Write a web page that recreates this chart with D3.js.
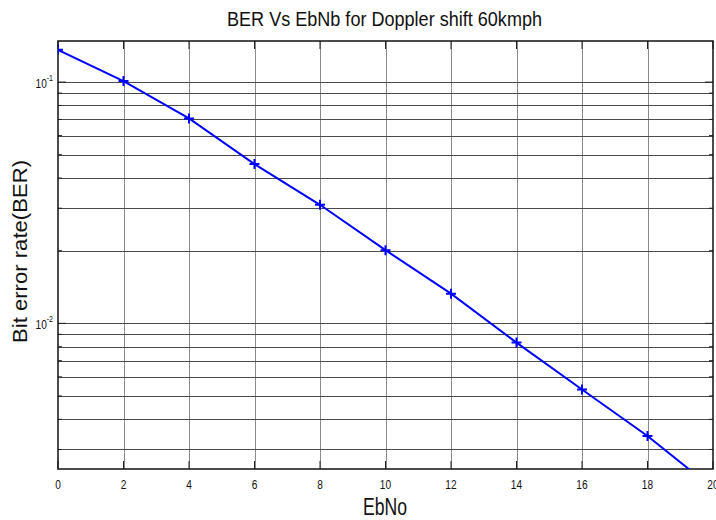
<!DOCTYPE html>
<html>
<head>
<meta charset="utf-8">
<script src="https://cdn.jsdelivr.net/npm/d3@7/dist/d3.min.js"></script>
<style>
  body { margin: 0; background: white; }
  text { font-family: "Liberation Sans", Arial, sans-serif; fill: #111; }
</style>
</head>
<body>
<div id="chart"></div>
<script>
const ebno = [0, 2, 4, 6, 8, 10, 12, 14, 16, 18, 20];
const ber = [0.136, 0.101, 0.0707, 0.0457, 0.0310, 0.0201, 0.01327, 0.00832, 0.00532, 0.00341, 0.00207];
const xTicks = [0, 2, 4, 6, 8, 10, 12, 14, 16, 18, 20];
const yMajor = [0.1, 0.01];
const yExp = ["-1", "-2"];
const yMinor = [0.003, 0.004, 0.005, 0.006, 0.007, 0.008, 0.009, 0.01,
  0.02, 0.03, 0.04, 0.05, 0.06, 0.07, 0.08, 0.09, 0.1];

const width = 716;
const height = 520;
const margin = { top: 41, bottom: 51, left: 58, right: 3 };
const squeeze = 0.78; // matlab export looks horizontally condensed

const svg = d3.select("#chart")
  .append("svg")
  .attr("width", width)
  .attr("height", height);

const x = d3.scaleLinear()
  .domain([0, 20])
  .range([margin.left, width - margin.right]);

const y = d3.scaleLog()
  .domain([0.00249, 0.148])
  .range([height - margin.bottom, margin.top]);

svg.append("defs").append("clipPath").attr("id", "clip")
  .append("rect")
  .attr("x", margin.left).attr("y", margin.top)
  .attr("width", x(20) - x(0)).attr("height", y.range()[0] - y.range()[1]);

// grid
svg.append("g")
  .selectAll("line")
  .data(xTicks.slice(1, -1))
  .join("line")
  .attr("x1", d => Math.round(x(d)) + 0.5).attr("x2", d => Math.round(x(d)) + 0.5)
  .attr("y1", margin.top).attr("y2", height - margin.bottom)
  .attr("stroke", "#8a8a8a").attr("stroke-width", 1);

svg.append("g")
  .selectAll("line")
  .data(yMinor)
  .join("line")
  .attr("x1", margin.left).attr("x2", width - margin.right)
  .attr("y1", d => Math.round(y(d)) + 0.5).attr("y2", d => Math.round(y(d)) + 0.5)
  .attr("stroke", "#4a4a4a").attr("stroke-width", 1);

// inner tick marks
const tk = svg.append("g").attr("stroke", "#222").attr("stroke-width", 1);
xTicks.forEach(d => {
  tk.append("line").attr("x1", x(d)).attr("x2", x(d))
    .attr("y1", height - margin.bottom).attr("y2", height - margin.bottom - 8);
  tk.append("line").attr("x1", x(d)).attr("x2", x(d))
    .attr("y1", margin.top).attr("y2", margin.top + 8);
});
yMinor.forEach(d => {
  const len = yMajor.includes(d) ? 8 : 4;
  tk.append("line").attr("x1", margin.left).attr("x2", margin.left + len)
    .attr("y1", y(d)).attr("y2", y(d));
  tk.append("line").attr("x1", width - margin.right).attr("x2", width - margin.right - len)
    .attr("y1", y(d)).attr("y2", y(d));
});

// frame
svg.append("rect")
  .attr("x", margin.left).attr("y", margin.top)
  .attr("width", x(20) - x(0)).attr("height", y.range()[0] - y.range()[1])
  .attr("fill", "none").attr("stroke", "#111").attr("stroke-width", 1.5);

// x tick labels
svg.append("g")
  .selectAll("text")
  .data(xTicks)
  .join("text")
  .attr("transform", d => `translate(${x(d)},${height - margin.bottom + 20}) scale(${squeeze},1)`)
  .attr("text-anchor", "middle")
  .attr("font-size", 13)
  .text(d => d);

// y tick labels
const yl = svg.append("g")
  .selectAll("text")
  .data(yMajor)
  .join("text")
  .attr("transform", d => `translate(${margin.left - 5},${y(d) + 6}) scale(${squeeze},1)`)
  .attr("text-anchor", "end")
  .attr("font-size", 13);
yl.append("tspan").text("10");
yl.append("tspan")
  .attr("font-size", 9)
  .attr("dy", -7)
  .text((d, i) => yExp[i]);

// line
const line = d3.line().x((d, i) => x(ebno[i])).y(d => y(d));
const plot = svg.append("g").attr("clip-path", "url(#clip)");
plot.append("path")
  .datum(ber)
  .attr("d", line)
  .attr("fill", "none")
  .attr("stroke", "#0000ff")
  .attr("stroke-width", 2);

plot.append("g")
  .selectAll("path")
  .data(ber)
  .join("path")
  .attr("d", (d, i) => {
    const cx = x(ebno[i]), cy = y(d);
    return `M${cx - 5},${cy}H${cx + 5}M${cx},${cy - 5}V${cy + 5}`;
  })
  .attr("stroke", "#0000ff")
  .attr("stroke-width", 2);

// title and axis labels
svg.append("text")
  .attr("x", 227).attr("y", 26)
  .attr("font-size", 21)
  .attr("textLength", 315)
  .attr("lengthAdjust", "spacingAndGlyphs")
  .text("BER Vs EbNb for Doppler shift 60kmph");

svg.append("text")
  .attr("x", 363).attr("y", 515)
  .attr("font-size", 23)
  .attr("textLength", 44)
  .attr("lengthAdjust", "spacingAndGlyphs")
  .text("EbNo");

svg.append("text")
  .attr("transform", "translate(27,343) rotate(-90)")
  .attr("font-size", 20)
  .attr("textLength", 183)
  .attr("lengthAdjust", "spacingAndGlyphs")
  .text("Bit error rate(BER)");
</script>
</body>
</html>
